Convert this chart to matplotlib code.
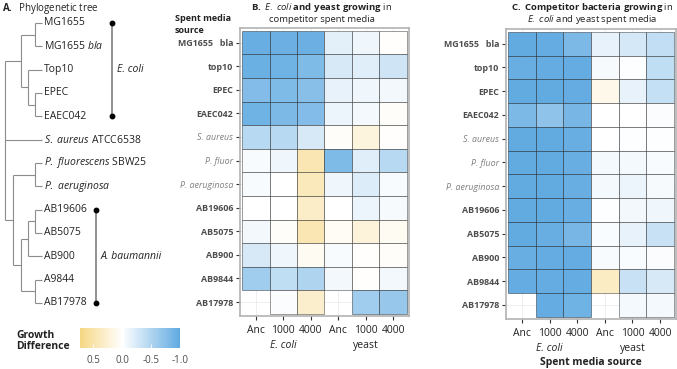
import numpy as np
import matplotlib
matplotlib.use('Agg')
import matplotlib.pyplot as plt
from matplotlib.colors import LinearSegmentedColormap, Normalize
from matplotlib.patches import Rectangle
import matplotlib.cm as cm

plt.rcParams['font.family'] = ['Open Sans', 'DejaVu Sans']
plt.rcParams['mathtext.fontset'] = 'custom'
plt.rcParams['mathtext.rm'] = 'Open Sans'
plt.rcParams['mathtext.it'] = 'Open Sans:italic'
plt.rcParams['mathtext.bf'] = 'Open Sans:bold'
plt.rcParams['axes.unicode_minus'] = False

# ---------------- data ----------------
row_labels = ["MG1655   bla", "top10", "EPEC", "EAEC042", "S. aureus", "P. fluor",
              "P. aeruginosa", "AB19606", "AB5075", "AB900", "AB9844", "AB17978"]
italic_rows = ["S. aureus", "P. fluor", "P. aeruginosa"]
col_labels = ["Anc", "1000", "4000", "Anc", "1000", "4000"]
group_labels = ["E. coli", "yeast"]
group_cols = [2, 5]
nan = np.nan

# Panel B: E. coli and yeast growing in competitor spent media
b_values = np.array([
    [-0.95, -0.92, -0.92, -0.18, -0.10,  0.02],
    [-0.93, -0.90, -0.80, -0.25, -0.20, -0.30],
    [-0.78, -0.80, -0.75, -0.15, -0.10, -0.08],
    [-0.90, -0.82, -0.78, -0.12, -0.07,  0.03],
    [-0.45, -0.45, -0.25,  0.04,  0.20,  0.02],
    [-0.05, -0.10,  0.45, -0.80, -0.20, -0.45],
    [-0.05,  0.00,  0.40, -0.10, -0.22, -0.05],
    [ 0.00,  0.00,  0.33,  0.00, -0.12, -0.06],
    [-0.08,  0.04,  0.45,  0.06,  0.22,  0.08],
    [-0.25, -0.10,  0.08, -0.05,  0.01,  0.03],
    [-0.60, -0.40, -0.50, -0.08,  0.02, -0.08],
    [  nan, -0.03,  0.30,   nan, -0.60, -0.65],
])

# Panel C: competitor bacteria growing in E. coli and yeast spent media
c_values = np.array([
    [-0.98, -0.97, -0.82, -0.15, -0.27, -0.38],
    [-0.95, -0.97, -0.97, -0.06, -0.02, -0.40],
    [-0.98, -0.98, -0.97,  0.12, -0.15, -0.37],
    [-0.82, -0.70, -0.85,  0.00,  0.00, -0.03],
    [-0.98, -0.98, -0.95,  0.00, -0.02, -0.02],
    [-0.98, -0.98, -0.95, -0.07, -0.07, -0.05],
    [-0.98, -0.98, -0.95, -0.07, -0.12, -0.06],
    [-0.98, -0.98, -0.95, -0.02, -0.08, -0.10],
    [-0.98, -0.95, -0.85, -0.04, -0.15, -0.35],
    [-0.95, -0.97, -0.97, -0.05, -0.04, -0.03],
    [-0.97, -0.97, -0.97,  0.35, -0.35, -0.25],
    [  nan, -0.97, -0.90,   nan, -0.07, -0.07],
])

cbar_ticks = [0.5, 0.0, -0.5, -1.0]
cbar_ticklabels = ["0.5", "0.0", "-0.5", "-1.0"]
vmin, vmax = -1.0, 0.73

# phylogenetic tree: [node_x, children...]
tree = [5,
        [21, [35, "MG1655", "MG1655 bla"], [28, "Top10", [35, "EPEC", "EAEC042"]]],
        "S. aureus ATCC6538",
        [13, [35, "P. fluorescens SBW25", "P. aeruginosa"],
         [21, [28, [35, "AB19606", "AB5075"], "AB900"], [35, "A9844", "AB17978"]]]]
leaf_display = {
    "MG1655 bla": r"MG1655 $\mathit{bla}$",
    "S. aureus ATCC6538": r"$\mathit{S.\ aureus}$ ATCC6538",
    "P. fluorescens SBW25": r"$\mathit{P.\ fluorescens}$ SBW25",
    "P. aeruginosa": r"$\mathit{P.\ aeruginosa}$",
}
clades = [("E. coli", "MG1655", "EAEC042", 112), ("A. baumannii", "AB19606", "AB17978", 96)]

# ---------------- figure ----------------
W, H = 677, 369
fig = plt.figure(figsize=(W / 100, H / 100), dpi=100)

def rect(x0, y0, x1, y1):
    return [x0 / W, 1 - y1 / H, (x1 - x0) / W, (y1 - y0) / H]

cmap = LinearSegmentedColormap.from_list(
    'gd', [(0.0, '#60AAE1'), ((0 - vmin) / (vmax - vmin), '#FFFFFF'), (1.0, '#F6D784')])
norm = Normalize(vmin=vmin, vmax=vmax)

TXT = '#4D4D4D'

# ---- tree ----
axT = fig.add_axes([0, 0, 1, 1])
axT.set_xlim(0, W)
leaf_y0, leaf_dy = 23, 23.33
axT.set_ylim((H - leaf_y0) / leaf_dy, -leaf_y0 / leaf_dy)
axT.axis('off')
leaf_x = 42
leaves = []
tc = '#8C8C8C'

def draw(node):
    if isinstance(node, str):
        i = len(leaves)
        leaves.append(node)
        axT.text(leaf_x + 2, i, leaf_display.get(node, node), fontsize=7.5,
                 va='center', ha='left', color='#222222')
        return i, leaf_x
    x = node[0]
    res = [draw(c) for c in node[1:]]
    ys = [r[0] for r in res]
    axT.plot([x, x], [min(ys), max(ys)], color=tc, lw=0.8, solid_capstyle='butt')
    for (cy, cx) in res:
        axT.plot([x, cx], [cy, cy], color=tc, lw=0.8, solid_capstyle='butt')
    return float(np.mean(ys)), x

draw(tree)
for name, a, b, x in clades:
    ia, ib = leaves.index(a), leaves.index(b)
    axT.plot([x, x], [ia, ib], color='#7F7F7F', lw=1.2)
    axT.plot([x, x], [ia, ib], 'o', color='black', ms=3.2)
    axT.text(x + 5, (ia + ib) / 2, name, style='italic', fontsize=7.5,
             va='center', ha='left', color='#222222')

fig.text(2 / W, 1 - 8 / H, r"$\mathbf{A.}$  Phylogenetic tree", fontsize=7,
         va='center', ha='left', color='#222222')

# ---- heatmaps ----
def heatmap(ax, vals):
    ax.set_axisbelow(True)
    ax.grid(True, color='#EBEBEB', lw=0.6)
    nr, nc = vals.shape
    for r in range(nr):
        for c in range(nc):
            v = vals[r, c]
            if np.isnan(v):
                continue
            ax.add_patch(Rectangle((c + 0.5, r + 0.5), 1, 1, facecolor=cmap(norm(v)),
                                   edgecolor=(0, 0, 0, 0.45), linewidth=0.6))
    ax.set_xlim(0.5 - 0.073, nc + 0.5 + 0.073)
    ax.set_ylim(nr + 0.5 + 0.09, 0.5 - 0.12)
    ax.set_xticks(np.arange(1, nc + 1))
    ax.set_xticklabels(col_labels)
    ax.set_yticks(np.arange(1, nr + 1))
    ax.set_yticklabels(row_labels)
    ax.tick_params(length=3, width=0.8, color='#333333', pad=2)
    ax.tick_params(axis='x', labelsize=7.5, labelcolor='#222222', pad=3.5)
    ax.tick_params(axis='y', labelsize=6.4)
    for t in ax.get_yticklabels():
        if t.get_text() in italic_rows:
            t.set_fontstyle('italic')
            t.set_color('#808080')
        else:
            t.set_fontweight('bold')
            t.set_color(TXT)
    for s in ax.spines.values():
        s.set_color('#B3B3B3')
        s.set_linewidth(1.2)
    for g, c in zip(group_labels, group_cols):
        ax.annotate(g, xy=(c, 0), xycoords=('data', 'axes fraction'),
                    xytext=(0, -21), textcoords='offset points', ha='center', va='center',
                    fontsize=7.5, color='#222222',
                    style='italic' if g == 'E. coli' else 'normal')

axB = fig.add_axes(rect(240, 28, 409, 316))
heatmap(axB, b_values)
axC = fig.add_axes(rect(506, 29, 676, 319))
heatmap(axC, c_values)

fig.text(322 / W, 1 - 7 / H,
         r"$\mathbf{B.}$ $\mathit{E.\ coli}$ $\mathbf{and\ yeast\ growing}$ in",
         fontsize=6.8, ha='center', va='center', color='#222222')
fig.text(322 / W, 1 - 19.5 / H, "competitor spent media",
         fontsize=6.8, ha='center', va='center', color='#222222')
fig.text(175 / W, 1 - 24.5 / H, "Spent media\nsource", fontsize=6.5, fontweight='bold',
         ha='left', va='center', color='#222222', linespacing=1.45)

fig.text(592 / W, 1 - 7 / H,
         r"$\mathbf{C.\ Competitor\ bacteria\ growing}$ in",
         fontsize=6.8, ha='center', va='center', color='#222222')
fig.text(592 / W, 1 - 19.5 / H, r"$\mathit{E.\ coli}$ and yeast spent media",
         fontsize=6.8, ha='center', va='center', color='#222222')
fig.text(591 / W, 1 - 363 / H, "Spent media source", fontsize=7.5, fontweight='bold',
         ha='center', va='center', color='#222222')

# ---- colorbar ----
cax = fig.add_axes(rect(80, 328, 180, 348))
sm = cm.ScalarMappable(norm=norm, cmap=cmap)
cb = fig.colorbar(sm, cax=cax, orientation='horizontal', ticks=cbar_ticks)
cb.set_ticklabels(cbar_ticklabels)
cb.outline.set_visible(False)
cax.invert_xaxis()
cax.tick_params(direction='in', color='white', length=3, width=0.6,
                labelsize=7, labelcolor=TXT, pad=5)
fig.text(16 / W, 1 - 341 / H, "Growth\nDifference", fontsize=7.5, fontweight='bold',
         ha='left', va='center', color='#222222', linespacing=1.1)

fig.savefig('out.png', dpi=100)
